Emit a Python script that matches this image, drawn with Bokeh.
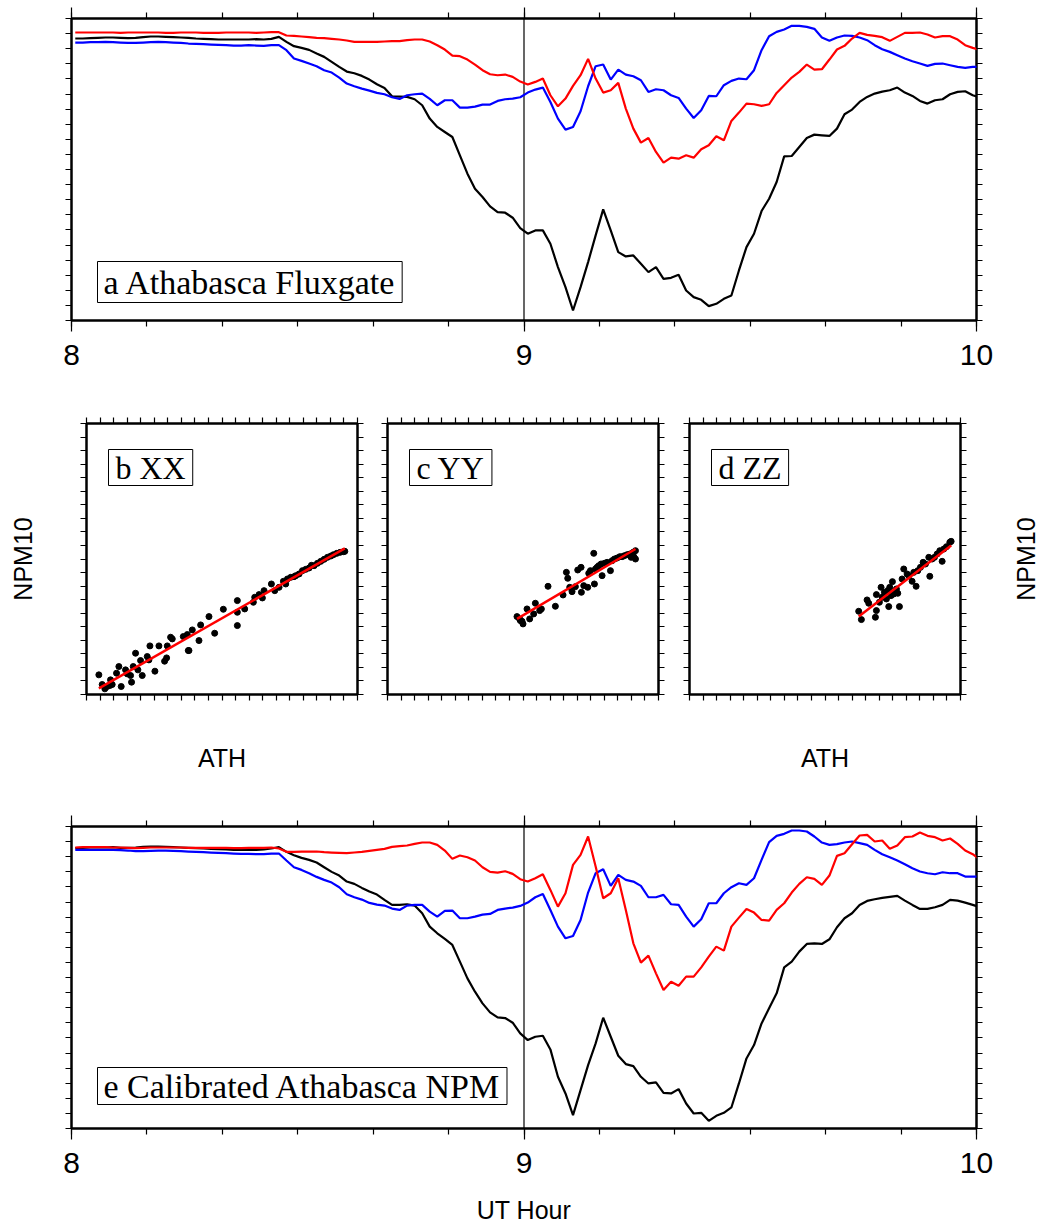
import numpy as np
from bokeh.plotting import figure
from bokeh.models import Range1d, LinearAxis, FixedTicker, Span, Label
from bokeh.layouts import column, row
from bokeh.embed import file_html
from bokeh.resources import INLINE

# ---------------- data ----------------
# one-minute samples (centre of each minute) after 08:00 UT
sample_minute = np.arange(121) + 0.5
ut_hour = 8 + sample_minute / 60.0

# panel a: Athabasca fluxgate (arbitrary nT offsets)
ath_x = [885, 885, 886, 887, 888, 888, 887, 886, 887, 889, 891, 891, 890, 889, 888, 887, 885, 884, 883, 882,
         882, 882, 882, 882, 883, 882, 884, 890,
         875, 862, 857, 851, 840, 830, 815, 800, 786, 781, 773, 762, 748, 737, 712, 711, 710, 703, 685, 645,
         620, 605, 590, 535, 480, 435, 410, 382, 365, 363, 348, 317,
         300, 310, 310, 270, 200, 140, 70, 140, 215, 295, 373, 310, 245, 232, 235, 210, 185, 200, 165, 168,
         177, 130, 110, 102, 83, 90, 105, 115, 190, 260, 300, 368, 405, 455, 532, 533, 560, 587, 597, 595,
         593, 615, 658, 672, 695, 710, 720, 726, 730, 738, 723, 713, 698, 690, 700, 703, 718, 725, 727, 715,
         708]
ath_y = [903, 903, 903, 903, 903, 903, 902, 903, 903, 903, 903, 903, 902, 902, 903, 903, 903, 902, 902, 902,
         903, 903, 903, 903, 902, 903, 904,
         904, 894, 893, 891, 889, 887, 886, 884, 882, 879, 875, 875, 875, 875, 876, 877, 877, 880, 882, 882,
         876, 865, 852, 834, 832, 822, 807, 790, 778, 775, 777, 770, 756,
         747, 755, 765, 715, 682, 705, 743, 775, 824, 765, 723, 730, 752, 675, 615, 573, 587, 545, 513, 528,
         525, 535, 528, 553, 565, 592, 580, 638, 663, 690, 688, 683, 688, 722, 745, 768, 785, 807, 792, 793,
         822, 852, 863, 885, 902, 896, 893, 889, 878, 890, 902, 902, 903, 897, 888, 892, 892, 882, 865, 857,
         850]
ath_z = [873, 873, 874, 874, 875, 874, 873, 872, 872, 873, 874, 875, 874, 873, 872, 870, 869, 868, 867, 866,
         865, 864, 864, 865, 864, 863, 865,
         865, 850, 825, 818, 810, 802, 790, 783, 768, 750, 742, 735, 729, 722, 718, 709, 704, 715, 718, 720,
         704, 685, 700, 700, 678, 678, 681, 687, 687, 698, 703, 705, 709,
         723, 732, 738, 695, 645, 612, 620, 667, 742, 802, 807, 762, 792, 777, 772, 760, 725, 733, 730, 715,
         707, 675, 647, 670, 713, 712, 745, 758, 765, 763, 790, 850, 892, 905, 912, 923, 923, 920, 914, 888,
         878, 888, 894, 893, 888, 880, 865, 853, 845, 835, 825, 817, 810, 803, 809, 810, 805, 800, 797, 800,
         800]

# panel e: calibrated Athabasca NPM
npm_x = [885, 886, 887, 887, 887, 888, 886, 886, 887, 889, 890, 890, 889, 888, 887, 886, 885, 884, 883, 882,
         881, 880, 880, 880, 880, 881, 884, 888,
         874, 864, 856, 850, 842, 828, 814, 803, 785, 778, 766, 755, 746, 730, 715, 715, 717, 713, 690, 650,
         630, 613, 595, 545, 495, 455, 420, 393, 378, 376, 362, 330,
         310, 320, 323, 282, 200, 150, 85, 160, 235, 300, 377, 320, 263, 238, 232, 200, 180, 183, 152, 150,
         163, 120, 90, 92, 68, 83, 92, 108, 180, 255, 295, 360, 405, 450, 528, 545, 575, 598, 600, 598,
         612, 648, 675, 690, 715, 727, 732, 736, 739, 742, 728, 715, 703, 703, 708, 715, 730, 728, 722, 715,
         708]
npm_y = [887, 888, 888, 888, 888, 887, 887, 886, 885, 886, 887, 887, 887, 887, 887, 886, 886, 886, 886, 886,
         886, 885, 885, 886, 886, 886, 887,
         884, 874, 874, 875, 875, 875, 873, 872, 871, 870, 872, 874, 877, 880, 883, 889, 891, 893, 898, 902,
         902, 895, 878, 853, 863, 858, 848, 828, 814, 812, 816, 808, 792, 785,
         795, 807, 760, 710, 750, 835, 865, 920, 830, 735, 750, 795, 700, 600, 542, 563, 510, 460, 485, 473,
         500, 500, 528, 560, 590, 578, 650, 677, 703, 692, 670, 668, 700, 720, 752, 778, 798, 793, 775, 803,
         862, 870, 897, 923, 925, 905, 908, 883, 893, 918, 920, 932, 922, 918, 908, 914, 898, 878, 867, 850]
npm_z = [880, 880, 880, 880, 880, 880, 879, 878, 876, 876, 877, 878, 878, 877, 876, 875, 874, 873, 872, 871,
         870, 869, 868, 868, 867, 867, 869, 869,
         848, 828, 820, 810, 799, 790, 782, 768, 747, 738, 731, 721, 716, 713, 704, 700, 713, 715, 715, 695,
         680, 697, 698, 675, 675, 680, 686, 688, 700, 704, 707, 712, 722,
         738, 748, 700, 650, 615, 622, 670, 752, 810, 822, 772, 805, 790, 785, 772, 738, 738, 745, 717, 715,
         680, 650, 672, 720, 720, 750, 768, 780, 775, 795, 850, 903, 922, 928, 938, 938, 935, 920, 902, 895,
         897, 902, 905, 900, 895, 880, 867, 858, 848, 837, 825, 815, 810, 807, 813, 810, 810, 800, 800, 800]

# panels b-d: NPM10 against ATH (arbitrary units)
xx_ath = [37, 47, 55, 62, 70, 72, 77, 90, 97, 104, 117, 122, 132, 135, 140, 147, 154, 162, 167, 182,
          190, 187, 205, 217, 234, 240, 242, 252, 257, 290, 302, 305, 307, 317, 337, 342, 367, 384, 410, 452,
          452, 452, 474, 500, 504, 517, 527, 532, 554, 564, 577, 590, 597, 602, 612, 622, 627, 637, 647, 657,
          667, 674, 682, 692, 702, 712, 722, 732, 740, 750, 760, 770, 774]
xx_npm = [59, 30, 17, 24, 27, 44, 30, 64, 84, 24, 74, 62, 57, 37, 84, 124, 74, 102, 57, 114,
          146, 104, 70, 146, 100, 110, 146, 172, 167, 174, 180, 132, 132, 194, 162, 209, 234, 184, 256, 282,
          247, 207, 257, 277, 292, 300, 290, 312, 332, 312, 322, 340, 332, 347, 352, 354, 357, 362, 372, 376,
          380, 388, 387, 394, 400, 406, 412, 416, 420, 424, 427, 429, 430]
yy_ath = [388, 396, 403, 406, 398, 418, 426, 438, 443, 456, 461, 481, 503, 526, 536, 540, 546, 553, 563, 570,
          580, 581, 588, 600, 603, 608, 618, 620, 623, 628, 633, 640, 643, 650, 658, 668, 673, 680, 688, 696,
          703, 710, 718, 726, 730, 736, 743, 743, 738]
yy_npm = [234, 227, 220, 212, 222, 257, 227, 242, 274, 252, 257, 325, 265, 299, 367, 349, 322, 309, 324, 374,
          382, 307, 327, 322, 364, 372, 424, 332, 377, 382, 387, 392, 357, 394, 397, 372, 402, 407, 410, 414,
          414, 417, 420, 422, 412, 427, 432, 407, 414]
zz_ath = [507, 515, 532, 537, 557, 560, 560, 569, 574, 577, 584, 590, 594, 597, 600, 604, 608, 612, 620, 624,
          629, 637, 642, 652, 657, 667, 672, 679, 684, 692, 700, 707, 717, 720, 727, 734, 742, 750, 757, 762,
          770, 780, 784]
zz_npm = [250, 225, 284, 274, 232, 300, 252, 277, 322, 292, 307, 287, 312, 264, 322, 297, 339, 302, 317, 304,
          264, 347, 377, 362, 357, 340, 367, 325, 372, 382, 397, 392, 412, 355, 407, 412, 422, 432, 400, 437,
          444, 457, 460]

hour_ticks = [8, 9, 10]
panel_titles = ["a Athabasca Fluxgate", "b XX", "c YY", "d ZZ", "e Calibrated Athabasca NPM"]

# ---------------- styling helpers ----------------
SANS = "Liberation Sans"
SERIF = "Liberation Serif"


def style_axis(ax, ticks, minor=None, tick_out=6, minor_out=0, labels=False):
    ax.ticker = FixedTicker(ticks=list(ticks), minor_ticks=list(minor) if minor is not None else [])
    ax.major_tick_in = 0
    ax.major_tick_out = tick_out
    ax.minor_tick_in = 0
    ax.minor_tick_out = minor_out
    ax.major_tick_line_color = "black"
    ax.minor_tick_line_color = "black"
    ax.major_tick_line_width = 1.2
    ax.minor_tick_line_width = 1.2
    ax.axis_line_color = None
    if labels:
        ax.major_label_text_font = SANS
        ax.major_label_text_font_size = "30px"
        ax.major_label_text_color = "black"
        ax.major_label_standoff = 13
    else:
        ax.major_label_text_font_size = "0px"
        ax.major_label_text_color = None
        ax.major_label_standoff = 0
    ax.axis_label_text_font = SANS
    ax.axis_label_text_font_size = "25px"
    ax.axis_label_text_font_style = "normal"
    ax.axis_label_text_color = "black"


def base_fig(**kw):
    p = figure(output_backend="svg", toolbar_location=None, **kw)
    p.grid.visible = False
    p.outline_line_color = "black"
    p.outline_line_width = 2.5
    p.background_fill_color = "white"
    p.border_fill_color = "white"
    return p


def title_box(text, x, y, size, anchor, pad):
    return Label(x=x, y=y, x_units="screen", y_units="screen", text=text, anchor=anchor,
                 text_font=SERIF, text_font_size=size, text_color="black",
                 border_line_color="black", border_line_width=1, background_fill_color="white",
                 padding=pad)


def ts_fig(y_lo, y_hi, bx, by, bz, top_b, bot_b, xlabel=None):
    p = base_fig(frame_width=905, frame_height=302, x_range=Range1d(8, 10), y_range=Range1d(y_lo, y_hi),
                 min_border_left=71, min_border_right=63, min_border_top=top_b, min_border_bottom=bot_b)
    p.add_layout(LinearAxis(), "above")
    p.add_layout(LinearAxis(), "right")
    minor = [8 + i / 6.0 for i in range(13)]
    yt = np.linspace(y_lo, y_hi, 21)
    style_axis(p.below[0], hour_ticks, minor, tick_out=11, minor_out=6, labels=True)
    style_axis(p.above[0], hour_ticks, minor, tick_out=11, minor_out=6)
    style_axis(p.left[0], yt)
    style_axis(p.right[0], yt)
    if xlabel:
        p.below[0].axis_label = xlabel
        p.below[0].axis_label_standoff = 20
    p.add_layout(Span(location=9, dimension="height", line_color="black", line_width=1.2, level="underlay"))
    p.line(ut_hour, bx, line_color="black", line_width=2.2)
    p.line(ut_hour, bz, line_color="blue", line_width=2.2)
    p.line(ut_hour, by, line_color="red", line_width=2.2)
    return p


def sc_fig(xs, ys, title, lb, rb, left_lab=False, bottom_lab=False):
    p = base_fig(frame_width=271, frame_height=271, x_range=Range1d(0, 812), y_range=Range1d(0, 814),
                 min_border_left=lb, min_border_right=rb, min_border_top=35, min_border_bottom=99)
    p.add_layout(LinearAxis(), "above")
    p.add_layout(LinearAxis(), "right")
    xt = np.linspace(0, 812, 21)
    yt = np.linspace(0, 814, 21)
    style_axis(p.below[0], xt)
    style_axis(p.above[0], xt)
    style_axis(p.left[0], yt)
    style_axis(p.right[0], yt)
    if left_lab:
        p.left[0].axis_label = "NPM10"
        p.left[0].axis_label_standoff = 44
    if bottom_lab:
        p.below[0].axis_label = "ATH"
        p.below[0].axis_label_standoff = 43
    p.scatter(xs, ys, size=6, fill_color="black", line_color="black", marker="circle")
    coef = np.polyfit(xs, ys, 1)
    fx = np.array([min(xs), max(xs)], dtype=float)
    p.line(fx, np.polyval(coef, fx), line_color="red", line_width=2.5)
    p.add_layout(title_box(title, 22, 271 - 26, "32px", "top_left", (7, 0)))
    return p


top = ts_fig(40, 945, ath_x, ath_y, ath_z, 18, 68)
top.add_layout(title_box(panel_titles[0], 26, 18, "34px", "bottom_left", (6, 2)))

pb = sc_fig(xx_ath, xx_npm, panel_titles[1], 86, 15, left_lab=True, bottom_lab=True)
pc = sc_fig(yy_ath, yy_npm, panel_titles[2], 15, 15)
pd = sc_fig(zz_ath, zz_npm, panel_titles[3], 16, 44, bottom_lab=True)

# right-hand NPM10 label, in a narrow strip beside panel d (its frame lines up with panel d's frame)
strip = figure(output_backend="svg", toolbar_location=None, width=35, height=405,
               min_border=0, x_axis_location=None, y_axis_location=None,
               x_range=Range1d(0, 1), y_range=Range1d(0, 1))
strip.grid.visible = False
strip.outline_line_color = None
strip.background_fill_color = "white"
strip.border_fill_color = "white"
strip.add_layout(Label(x=21, y=135.5, x_units="screen", y_units="screen", text="NPM10",
                       angle=90, angle_units="deg", text_align="center", text_baseline="middle",
                       text_font=SANS, text_font_size="25px", text_color="black"))

bottom = ts_fig(45, 950, npm_x, npm_y, npm_z, 33, 97, xlabel="UT Hour")
bottom.add_layout(title_box(panel_titles[4], 26, 24, "34px", "bottom_left", (6, 0)))

layout = column(top, row(pb, pc, pd, strip), bottom)

open("out.html", "w").write(file_html(layout, INLINE, title="Athabasca NPM calibration"))
